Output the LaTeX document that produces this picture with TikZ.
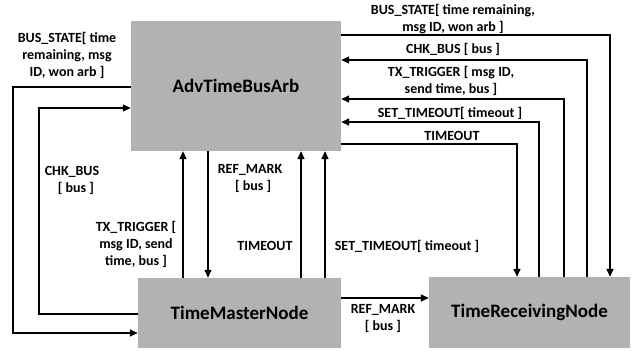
\documentclass[tikz,border=0pt]{standalone}
\usepackage{fontspec}
\setmainfont{Carlito}
\usetikzlibrary{arrows.meta}
\definecolor{boitegris}{RGB}{178,178,178}
\tikzset{
  boite/.style={fill=boitegris, draw=none, font=\bfseries\fontsize{19}{21}\selectfont, inner sep=0pt},
  fleche/.style={line width=1.4pt, -{Triangle[length=8pt,width=7pt]}},
  etiq/.style={font=\bfseries\fontsize{14}{17}\selectfont, align=center, inner sep=0pt}
}
\begin{document}
\begin{tikzpicture}[x=1pt,y=-1pt]
      \useasboundingbox (0,0) rectangle (632,351);
      % Les trois blocs
      \node[boite, minimum width=210pt, minimum height=130pt] (arb) at (236,86) {AdvTimeBusArb};
      \node[boite, minimum width=203pt, minimum height=70pt] (master) at (239.5,313) {TimeMasterNode};
      \node[boite, minimum width=201pt, minimum height=71pt] (recv) at (529.5,312.5) {TimeReceivingNode};
      % Liaisons a droite vers TimeReceivingNode
      \draw[fleche] (arb.east |- 0,35) -| (recv.north -| 610,0);
      \draw[fleche] (recv.north -| 587,0) |- (arb.east |- 0,60);
      \draw[fleche] (recv.north -| 564,0) |- (arb.east |- 0,99);
      \draw[fleche] (recv.north -| 539,0) |- (arb.east |- 0,122);
      \draw[fleche] (arb.east |- 0,144) -| (recv.north -| 517,0);
      \node[etiq] (lbs) at (453,19) {BUS\_STATE[ time remaining,\\ msg ID, won arb ]};
      \node[etiq] (lchk) at (453,49) {CHK\_BUS [ bus ]};
      \node[etiq] (ltx) at (451,81) {TX\_TRIGGER [ msg ID,\\ send time, bus ]};
      \node[etiq] (lset) at (450,113) {SET\_TIMEOUT[ timeout ]};
      \node[etiq] (lto) at (452,136) {TIMEOUT};
      % Liaisons a gauche vers TimeMasterNode
      \draw[fleche] (arb.west |- 0,87) -| (13,210) |- (master.west |- 0,333);
      \draw[fleche] (master.west |- 0,314) -| (39,200) |- (arb.west |- 0,108);
      \node[etiq] (lbs2) at (67,55) {BUS\_STATE[ time\\ remaining, msg\\ ID, won arb ]};
      \node[etiq] (lchk2) at (72,180) {CHK\_BUS\\ \hspace*{8pt}[ bus ]};
      % Liaisons verticales au milieu
      \draw[fleche] (master.north -| 183,0) -- (arb.south -| 183,0);
      \draw[fleche] (arb.south -| 208,0) -- (master.north -| 208,0);
      \draw[fleche] (master.north -| 301,0) -- (arb.south -| 301,0);
      \draw[fleche] (master.north -| 325,0) -- (arb.south -| 325,0);
      \node[etiq] (ltx2) at (136,244) {TX\_TRIGGER [\\ msg ID, send\\ time, bus ]};
      \node[etiq] (lref) at (250,178) {REF\_MARK\\ \phantom{F}[ bus ]};
      \node[etiq] (lto2) at (265,246) {TIMEOUT};
      \node[etiq] (lset2) at (407,246) {SET\_TIMEOUT[ timeout ]};
      % REF_MARK vers TimeReceivingNode
      \draw[fleche] (master.east |- 0,298) -- (recv.west |- 0,298);
      \node[etiq] (lref2) at (383,318) {REF\_MARK\\ {[ bus ]}};
    \end{tikzpicture}
\end{document}
